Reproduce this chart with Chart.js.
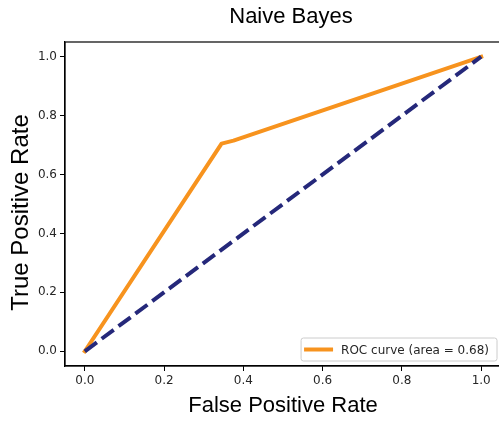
<!DOCTYPE html>
<html>
<head>
<meta charset="utf-8">
<title>Naive Bayes ROC</title>
<script src="https://cdn.jsdelivr.net/npm/chart.js@4"></script>
<style>
  html, body { margin: 0; padding: 0; overflow: hidden; background: #fff; }
  #wrap { width: 510px; height: 423px; }
</style>
</head>
<body>
<div id="wrap"><canvas id="rocChart" width="510" height="423"></canvas></div>
<script>
// ROC curve points
const fpr = [0, 0.345, 0.375, 1];
const tpr = [0, 0.705, 0.715, 1];
// chance diagonal
const chanceX = [0, 1];
const chanceY = [0, 1];
const rocArea = 0.68;
const axisTicks = [0, 0.2, 0.4, 0.6, 0.8, 1.0];

const chartTitle = 'Naive Bayes';
const xLabel = 'False Positive Rate';
const yLabel = 'True Positive Rate';

const toPoints = (xs, ys) => xs.map((x, i) => ({ x: x, y: ys[i] }));

// box around the plot area (top / right spines)
const framePlugin = {
  id: 'frame',
  afterDatasetsDraw(chart) {
    const { ctx, chartArea: a } = chart;
    ctx.save();
    ctx.strokeStyle = '#000';
    ctx.lineWidth = 1.2;
    ctx.strokeRect(a.left, a.top, a.right - a.left, a.bottom - a.top);
    ctx.restore();
  },
};

// title and y label, placed a little off the plot centre
const sideTexts = {
  id: 'sideTexts',
  afterDraw(chart) {
    const { ctx, chartArea: a } = chart;
    ctx.save();
    ctx.fillStyle = '#000';
    ctx.textAlign = 'center';
    ctx.textBaseline = 'middle';

    ctx.font = '22px "Liberation Sans"';
    ctx.fillText(chartTitle, (a.left + a.right) / 2 + 8, 17);

    ctx.font = '24px "Liberation Sans"';
    ctx.translate(21, (a.top + a.bottom) / 2 + 8.5);
    ctx.rotate(-Math.PI / 2);
    ctx.fillText(yLabel, 0, 0);
    ctx.restore();
  },
};

// matplotlib-like legend in the lower right corner
const rocLegend = {
  id: 'rocLegend',
  afterDraw(chart) {
    const ds = chart.data.datasets[1];
    const { ctx, chartArea: a } = chart;
    ctx.save();
    ctx.font = '12px "DejaVu Sans"';
    const textW = ctx.measureText(ds.label).width;
    const lead = 5;
    const handle = 25;
    const gap = 10;
    const w = lead + handle + gap + textW + 8;
    const h = 23;
    const x = a.right - 4 - w;
    const y = a.bottom - 5 - h;

    ctx.beginPath();
    ctx.roundRect(x, y, w, h, 2.4);
    ctx.fillStyle = 'rgba(255,255,255,0.8)';
    ctx.fill();
    ctx.strokeStyle = '#cccccc';
    ctx.lineWidth = 1;
    ctx.stroke();

    const cy = y + h / 2;
    ctx.beginPath();
    ctx.moveTo(x + lead, cy);
    ctx.lineTo(x + lead + handle, cy);
    ctx.strokeStyle = ds.borderColor;
    ctx.lineWidth = ds.borderWidth;
    ctx.lineCap = 'square';
    ctx.stroke();

    ctx.fillStyle = '#262626';
    ctx.textBaseline = 'middle';
    ctx.fillText(ds.label, x + lead + handle + gap, cy + 1);
    ctx.restore();
  },
};

const ctx = document.getElementById('rocChart').getContext('2d');

const tickFont = { family: 'DejaVu Sans', size: 12 };

new Chart(ctx, {
  type: 'scatter',
  data: {
    datasets: [
      {
        label: 'chance',
        data: toPoints(chanceX, chanceY),
        showLine: true,
        borderColor: '#25287a',
        borderWidth: 4,
        borderDash: [15, 6],
        borderCapStyle: 'butt',
        pointRadius: 0,
      },
      {
        label: 'ROC curve (area = ' + rocArea.toFixed(2) + ')',
        data: toPoints(fpr, tpr),
        showLine: true,
        borderColor: '#f7931e',
        borderWidth: 4,
        borderCapStyle: 'square',
        borderJoinStyle: 'round',
        pointRadius: 0,
      },
    ],
  },
  options: {
    responsive: false,
    animation: false,
    events: [],
    layout: { padding: { left: 0, right: 9, top: 42, bottom: 0 } },
    plugins: {
      legend: { display: false },
      tooltip: { enabled: false },
      title: { display: false },
    },
    scales: {
      x: {
        type: 'linear',
        min: -0.05,
        max: 1.05,
        afterBuildTicks: (scale) => {
          scale.ticks = axisTicks.map((v) => ({ value: v }));
        },
        afterFit: (scale) => {
          scale.height = 57;
        },
        grid: { drawOnChartArea: false, tickLength: 5, tickColor: '#000', tickWidth: 1 },
        border: { color: '#000', width: 1.2 },
        ticks: {
          color: '#262626',
          font: tickFont,
          padding: 3,
          maxRotation: 0,
          callback: (v) => v.toFixed(1),
        },
        title: {
          display: true,
          text: xLabel,
          color: '#000',
          font: { family: 'Liberation Sans', size: 22 },
          padding: { top: 0, bottom: 4 },
        },
      },
      y: {
        type: 'linear',
        min: -0.05,
        max: 1.05,
        afterBuildTicks: (scale) => {
          scale.ticks = axisTicks.map((v) => ({ value: v }));
        },
        afterFit: (scale) => {
          scale.width = 65;
        },
        grid: { drawOnChartArea: false, tickLength: 5, tickColor: '#000', tickWidth: 1 },
        border: { color: '#000', width: 1.2 },
        ticks: {
          color: '#262626',
          font: tickFont,
          padding: 3,
          callback: (v) => v.toFixed(1),
        },
      },
    },
  },
  plugins: [framePlugin, sideTexts, rocLegend],
});
</script>
</body>
</html>
